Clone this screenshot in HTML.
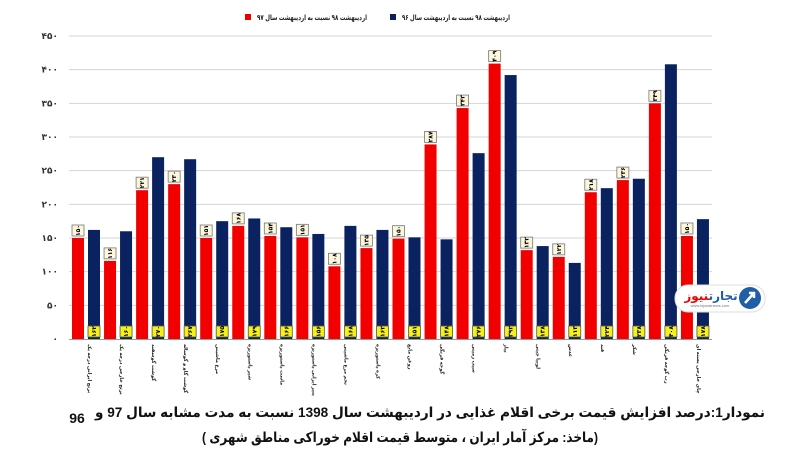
<!DOCTYPE html>
<html><head><meta charset="utf-8"><style>
html,body{margin:0;padding:0;background:#fff;width:800px;height:458px;overflow:hidden}
svg{display:block}
text{font-family:"Liberation Sans","DejaVu Sans",sans-serif}
.cap{font-family:"Liberation Sans","DejaVu Sans",sans-serif;font-weight:bold;font-size:14px;fill:#111}
</style></head><body>
<svg id="s" width="800" height="458" viewBox="0 0 800 458" xmlns="http://www.w3.org/2000/svg">
<rect width="800" height="458" fill="#fff"/>
<g id="grid"></g>
<g id="bars"></g>
<rect x="245" y="14" width="6" height="6" fill="#e00"/>
<text x="312" y="20" font-size="7.5" font-weight="bold" fill="#222" direction="rtl" text-anchor="middle" textLength="110" lengthAdjust="spacingAndGlyphs">اردیبهشت ۹۸ نسبت به اردیبهشت سال ۹۷</text>
<rect x="390" y="14" width="6" height="6" fill="#0a1f5c"/>
<text x="456" y="20" font-size="7.5" font-weight="bold" fill="#222" direction="rtl" text-anchor="middle" textLength="108" lengthAdjust="spacingAndGlyphs">اردیبهشت ۹۸ نسبت به اردیبهشت سال ۹۶</text>
<rect x="675" y="285" width="90" height="27" rx="13" fill="#fff" stroke="#ddd"/>
<circle cx="750" cy="298" r="11" fill="#1f5fa8"/>
<path d="M745 303 L754 293 M749 293 L754 293 L754 298" stroke="#fff" stroke-width="2.5" fill="none"/>
<text x="711" y="300" font-size="12" font-weight="bold" fill="#1f5fa8" text-anchor="middle" direction="rtl">تجارت<tspan fill="#e00">نیوز</tspan></text>
<text x="710" y="307" font-size="4" fill="#777" text-anchor="middle">www.tejaratnews.com</text>
<text class="cap" x="430" y="417" text-anchor="middle" direction="rtl" textLength="670" lengthAdjust="spacingAndGlyphs">نمودار1:درصد افزایش قیمت برخی اقلام غذایی در اردیبهشت سال 1398 نسبت به مدت مشابه سال 97 و</text>
<text class="cap" x="77" y="423" text-anchor="middle">96</text>
<text class="cap" x="400" y="442" text-anchor="middle" direction="rtl" textLength="396" lengthAdjust="spacingAndGlyphs">(ماخذ: مرکز آمار ایران ، متوسط قیمت اقلام خوراکی مناطق شهری )</text>
</svg>
<script>
var ns="http://www.w3.org/2000/svg";
function el(p,t,a,txt){var e=document.createElementNS(ns,t);for(var k in a)e.setAttribute(k,a[k]);if(txt!=null)e.textContent=txt;p.appendChild(e);return e;}
var y0=339,k=303/450;
var g=document.getElementById('grid'),b=document.getElementById('bars');
var yl=["۰","۵۰","۱۰۰","۱۵۰","۲۰۰","۲۵۰","۳۰۰","۳۵۰","۴۰۰","۴۵۰"];
for(var i=0;i<10;i++){var y=y0-i*50*k;
 if(i>0)el(g,'line',{x1:69,x2:712,y1:y,y2:y,stroke:'#d4d4d4','stroke-width':1});
 el(g,'text',{x:58,y:y+3,'font-size':9,'font-weight':'bold','text-anchor':'end',fill:'#333'},yl[i]);}
el(g,'line',{x1:69,x2:712,y1:y0+0.5,y2:y0+0.5,stroke:'#999','stroke-width':1});
var red=[150,116,221,230,150,168,153,151,108,135,149,289,343,409,132,122,218,236,350,153];
var blue=[162,160,270,267,175,179,166,156,168,162,151,148,276,392,138,113,224,238,408,178];
var rl=["۱۵۰","۱۱۶","۲۲۱","۲۳۰","۱۵۱","۱۶۸","۱۵۴","۱۵۱","۱۰۸","۱۳۵","۱۵۰","۲۸۷","۳۴۳","۴۰۹","۱۳۲","۱۲۲","۲۱۸","۲۳۶","۳۴۹","۱۵۰"];
var bl=["۱۶۲","۱۶۰","۲۷۰","۲۶۷","۱۷۵","۱۷۹","۱۶۶","۱۵۶","۱۶۸","۱۶۲","۱۵۱","۱۴۸","۲۷۶","۳۹۲","۱۳۸","۱۱۳","۲۲۴","۲۳۸","۴۰۸","۱۷۸"];
var cats=["برنج ایرانی درجه یک","برنج خارجی درجه یک","گوشت گوسفند","گوشت گاو و گوساله","مرغ ماشینی","شیر پاستوریزه","ماست پاستوریزه","پنیر ایرانی پاستوریزه","تخم مرغ ماشینی","کره پاستوریزه","روغن مایع","گوجه فرنگی","سیب زمینی","پیاز","لوبیا چیتی","عدس","قند","شکر","رب گوجه فرنگی","چای خارجی بسته ای"];
for(var i=0;i<20;i++){
 var x=72+i*32.05,w=12;
 var hr=red[i]*k,hb=blue[i]*k;
 el(b,'rect',{x:x,y:y0-hr,width:w,height:hr,fill:'#f20000'});
 el(b,'rect',{x:x+16,y:y0-hb,width:w,height:hb,fill:'#0b2260'});
 var ly=y0-hr-13;
 el(b,'rect',{x:x,y:ly,width:w,height:11,fill:'#fbf6dc',stroke:'#777','stroke-width':0.8});
 el(b,'text',{x:0,y:0,'font-size':6,'font-weight':'bold',fill:'#000','text-anchor':'middle',transform:'translate('+(x+w/2+2)+','+(ly+5.5)+') rotate(-90)'},rl[i]);
 var by=y0-13;
 el(b,'rect',{x:x+16,y:by,width:w,height:11,fill:'#f5ef1a',stroke:'#555','stroke-width':0.8});
 el(b,'text',{x:0,y:0,'font-size':6,'font-weight':'bold',fill:'#000','text-anchor':'middle',transform:'translate('+(x+16+w/2+2)+','+(by+5.5)+') rotate(-90)'},bl[i]);
 el(b,'text',{x:0,y:0,'font-size':5,'font-weight':'bold',fill:'#222','text-anchor':'start',transform:'translate('+(x+16)+',344) rotate(90)'},cats[i]);
}
</script>
</body></html>
